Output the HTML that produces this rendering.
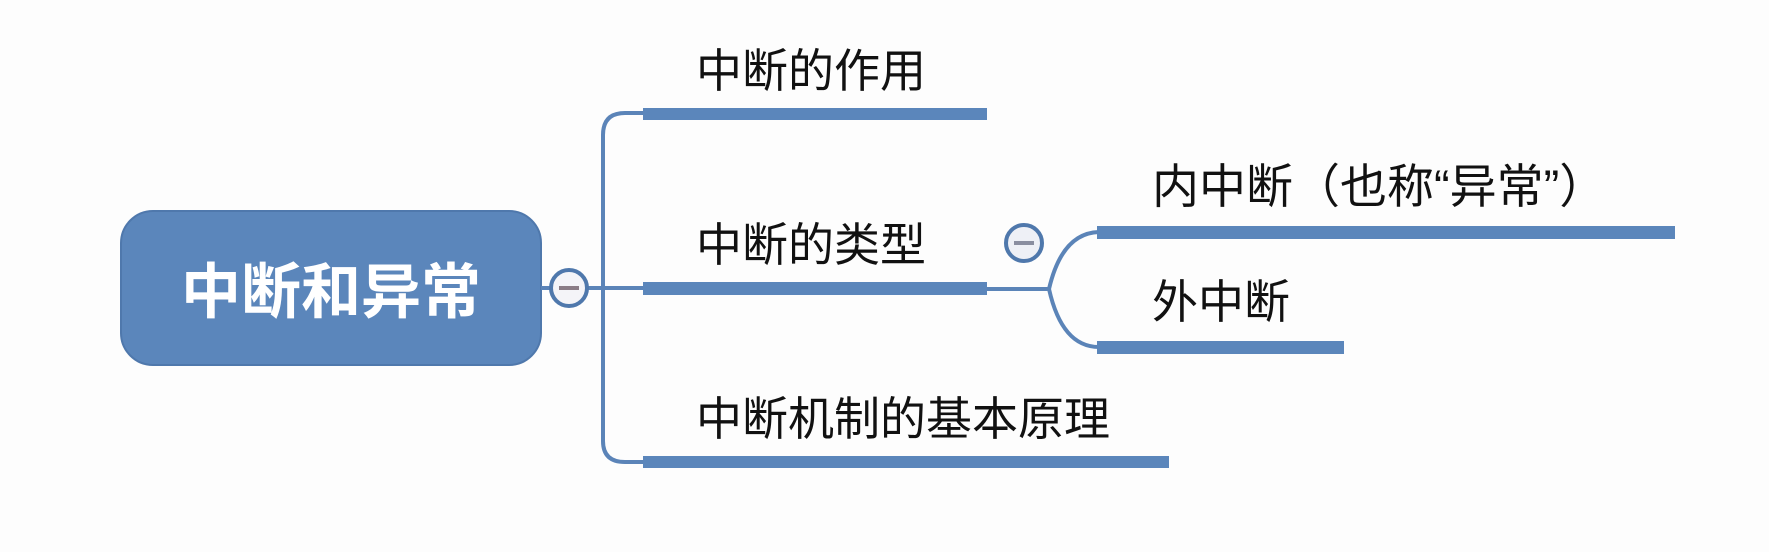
<!DOCTYPE html>
<html><head><meta charset="utf-8"><style>
html,body{margin:0;padding:0;background:#fdfdfd;}
svg{display:block}
text{font-family:"Liberation Sans","Noto Sans CJK SC",sans-serif;}
</style></head><body>
<svg width="1769" height="552" viewBox="0 0 1769 552">
<rect width="1769" height="552" fill="#fdfdfd"/>
<rect x="121" y="211" width="420" height="154" rx="32" fill="#5b86bb" stroke="#4f78ac" stroke-width="2"/>
<text x="331" y="313" font-size="60" font-weight="bold" fill="#fff" text-anchor="middle">中断和异常</text>
<g fill="none" stroke="#5b84b8" stroke-width="4">
<line x1="541" y1="288" x2="552" y2="288"/>
<line x1="587" y1="288" x2="645" y2="288"/>
<path d="M645 113 H625 Q603 113 603 135 V441 Q603 462 625 462 H645"/>
<path d="M987 289 H1049 M1049 289 Q1062 233 1099 232 M1049 289 Q1062 347 1099 347"/>
</g>
<circle cx="569" cy="288" r="18" fill="#f4f4f8" stroke="#4f78ac" stroke-width="4"/>
<rect x="559" y="286" width="20" height="4" fill="#8a7c86"/>
<circle cx="1024" cy="243" r="18" fill="#eef0f6" stroke="#4f78ac" stroke-width="4"/>
<rect x="1014" y="241" width="20" height="4" fill="#8a8ea0"/>
<g fill="#5b86bb">
<rect x="643" y="108" width="344" height="12"/>
<rect x="643" y="282" width="344" height="13"/>
<rect x="643" y="456" width="526" height="12"/>
<rect x="1097" y="226" width="578" height="13"/>
<rect x="1097" y="341" width="247" height="13"/>
</g>
<g font-size="46" fill="#111">
<text x="696" y="87">中断的作用</text>
<text x="696" y="261">中断的类型</text>
<text x="696" y="435">中断机制的基本原理</text>
<text x="1152" y="203" font-size="47">内中断（也称“异常”）</text>
<text x="1152" y="318">外中断</text>
</g>
</svg>
</body></html>
